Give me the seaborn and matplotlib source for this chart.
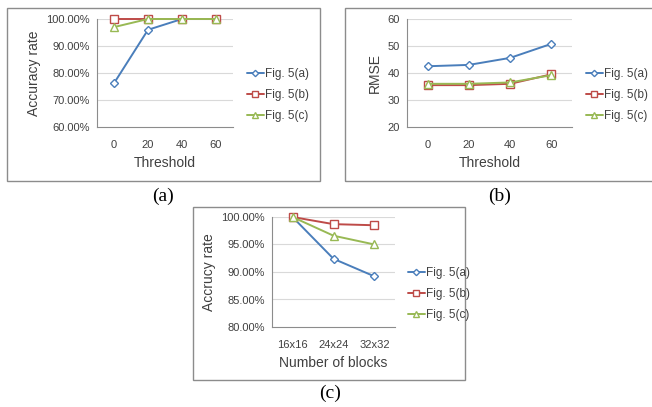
"""
Three small Excel-style line charts: accuracy rate and RMSE against
threshold, and accuracy rate against the number of blocks.
"""

import matplotlib.pyplot as plt
import matplotlib.patches as patches
from matplotlib.ticker import FuncFormatter, FixedLocator
import pandas as pd
import seaborn as sns

# Data
thresholds = ['0', '20', '40', '60']
blocks = ['16x16', '24x24', '32x32']
series_names = ['Fig. 5(a)', 'Fig. 5(b)', 'Fig. 5(c)']

acc_a = [76.2, 96.0, 100.0, 100.0]
acc_b = [100.0, 100.0, 100.0, 100.0]
acc_c = [97.0, 100.0, 100.0, 100.0]

rmse_a = [42.5, 43.0, 45.6, 50.8]
rmse_b = [35.5, 35.5, 36.0, 39.5]
rmse_c = [36.0, 36.0, 36.5, 39.2]

blk_a = [100.0, 92.4, 89.2]
blk_b = [100.0, 98.7, 98.5]
blk_c = [100.0, 96.6, 95.0]

colors = ['#4a7ebb', '#be4b48', '#98b954']
markers = ['D', 's', '^']
marker_sizes = [4, 6, 6]

W, H = 652, 407


def long_table(cats, values):
    """Build a long-form table from one category list and three series."""
    rows = []
    for name, vals in zip(series_names, values):
        for i, (c, v) in enumerate(zip(cats, vals)):
            rows.append({'pos': i, 'cat': c, 'value': v, 'series': name})
    return pd.DataFrame(rows)


def add_axes_px(fig, left, top, right, bottom):
    """Add an axes given pixel edges (measured from the top left)."""
    return fig.add_axes([left / W, 1 - bottom / H,
                         (right - left) / W, (bottom - top) / H])


def add_frame(fig, left, top, right, bottom):
    """Draw the grey box round one panel."""
    rect = patches.Rectangle((left / W, 1 - bottom / H),
                             (right - left) / W, (bottom - top) / H,
                             transform=fig.transFigure, fill=False,
                             edgecolor='#8c8c8c', linewidth=1.0)
    fig.patches.append(rect)


def draw_panel(fig, ax, cats, values, ylim, ystep, fmt, xlabel, ylabel,
               legend_xy):
    """Draw one panel with its gridlines, ticks and legend."""
    df = long_table(cats, values)
    for name, col, mk, ms in zip(series_names, colors, markers, marker_sizes):
        sub = df[df['series'] == name]
        sns.lineplot(data=sub, x='pos', y='value', ax=ax, color=col,
                     marker=mk, markersize=ms, markerfacecolor='white',
                     markeredgecolor=col, markeredgewidth=1.0,
                     linewidth=1.4, label=name, legend=False, clip_on=False)

    n = len(cats)
    ax.set_xlim(-0.5, n - 0.5)
    ax.set_ylim(*ylim)
    yt = [ylim[0] + ystep * i
          for i in range(int(round((ylim[1] - ylim[0]) / ystep)) + 1)]
    ax.set_yticks(yt)
    ax.yaxis.set_major_formatter(FuncFormatter(fmt))
    for y in yt[1:]:
        ax.axhline(y, color='#d9d9d9', linewidth=0.8, zorder=0)

    # category labels in the middle, tick marks on the boundaries
    ax.xaxis.set_major_locator(FixedLocator([i - 0.5 for i in range(n + 1)]))
    ax.xaxis.set_minor_locator(FixedLocator(list(range(n))))
    ax.set_xticklabels([])
    ax.set_xticklabels(cats, minor=True)
    ax.tick_params(axis='x', which='major', length=4, color='#8c8c8c')
    ax.tick_params(axis='x', which='minor', length=0, pad=9,
                   labelsize=8, labelcolor='#404040')
    ax.tick_params(axis='y', length=3, color='#8c8c8c', labelsize=8,
                   labelcolor='#404040', pad=2)

    for s in ['top', 'right']:
        ax.spines[s].set_visible(False)
    for s in ['left', 'bottom']:
        ax.spines[s].set_color('#8c8c8c')
        ax.spines[s].set_linewidth(0.8)
    ax.set_facecolor('none')
    ax.grid(False)

    ax.set_xlabel(xlabel, fontsize=10, color='#404040', labelpad=5)
    ax.set_ylabel(ylabel, fontsize=10, color='#404040', labelpad=4)

    handles = ax.get_lines()[:3]
    fig.legend(handles=handles, labels=series_names, loc='center left',
               bbox_to_anchor=(legend_xy[0] / W, 1 - legend_xy[1] / H),
               frameon=False, fontsize=8.5, handlelength=1.4,
               handletextpad=0.1, labelspacing=0.75, borderpad=0,
               borderaxespad=0, labelcolor='#404040', markerscale=0.8)


def main():
    """Lay out the three panels and save the figure."""
    sns.set_theme(style='white')
    plt.rcParams['font.family'] = ['Liberation Sans', 'DejaVu Sans']

    fig = plt.figure(figsize=(W / 100, H / 100), dpi=100)

    pct = lambda v, p: f'{v:.2f}%'
    num = lambda v, p: f'{v:.0f}'

    # (a) accuracy rate vs threshold
    add_frame(fig, 7, 8, 320, 181)
    ax_a = add_axes_px(fig, 97, 19, 233, 127)
    draw_panel(fig, ax_a, thresholds, [acc_a, acc_b, acc_c], (60, 100), 10,
               pct, 'Threshold', 'Accuracy rate', (247, 95))

    # (b) RMSE vs threshold (box runs past the right edge)
    add_frame(fig, 345, 8, 670, 181)
    ax_b = add_axes_px(fig, 407, 19, 572, 127)
    draw_panel(fig, ax_b, thresholds, [rmse_a, rmse_b, rmse_c], (20, 60), 10,
               num, 'Threshold', 'RMSE', (586, 95))

    # (c) accuracy rate vs number of blocks
    add_frame(fig, 193, 207, 465, 380)
    ax_c = add_axes_px(fig, 272, 217, 395, 327)
    draw_panel(fig, ax_c, blocks, [blk_a, blk_b, blk_c], (80, 100), 5,
               pct, 'Number of blocks', 'Accrucy rate', (408, 294))

    cap = dict(fontsize=14, family=['Liberation Serif', 'DejaVu Serif'],
               ha='center', va='center', color='black')
    fig.text(163 / W, 1 - 196 / H, '(a)', **cap)
    fig.text(500 / W, 1 - 196 / H, '(b)', **cap)
    fig.text(330 / W, 1 - 393 / H, '(c)', **cap)

    fig.savefig('out.png', dpi=100)


if __name__ == '__main__':
    main()
